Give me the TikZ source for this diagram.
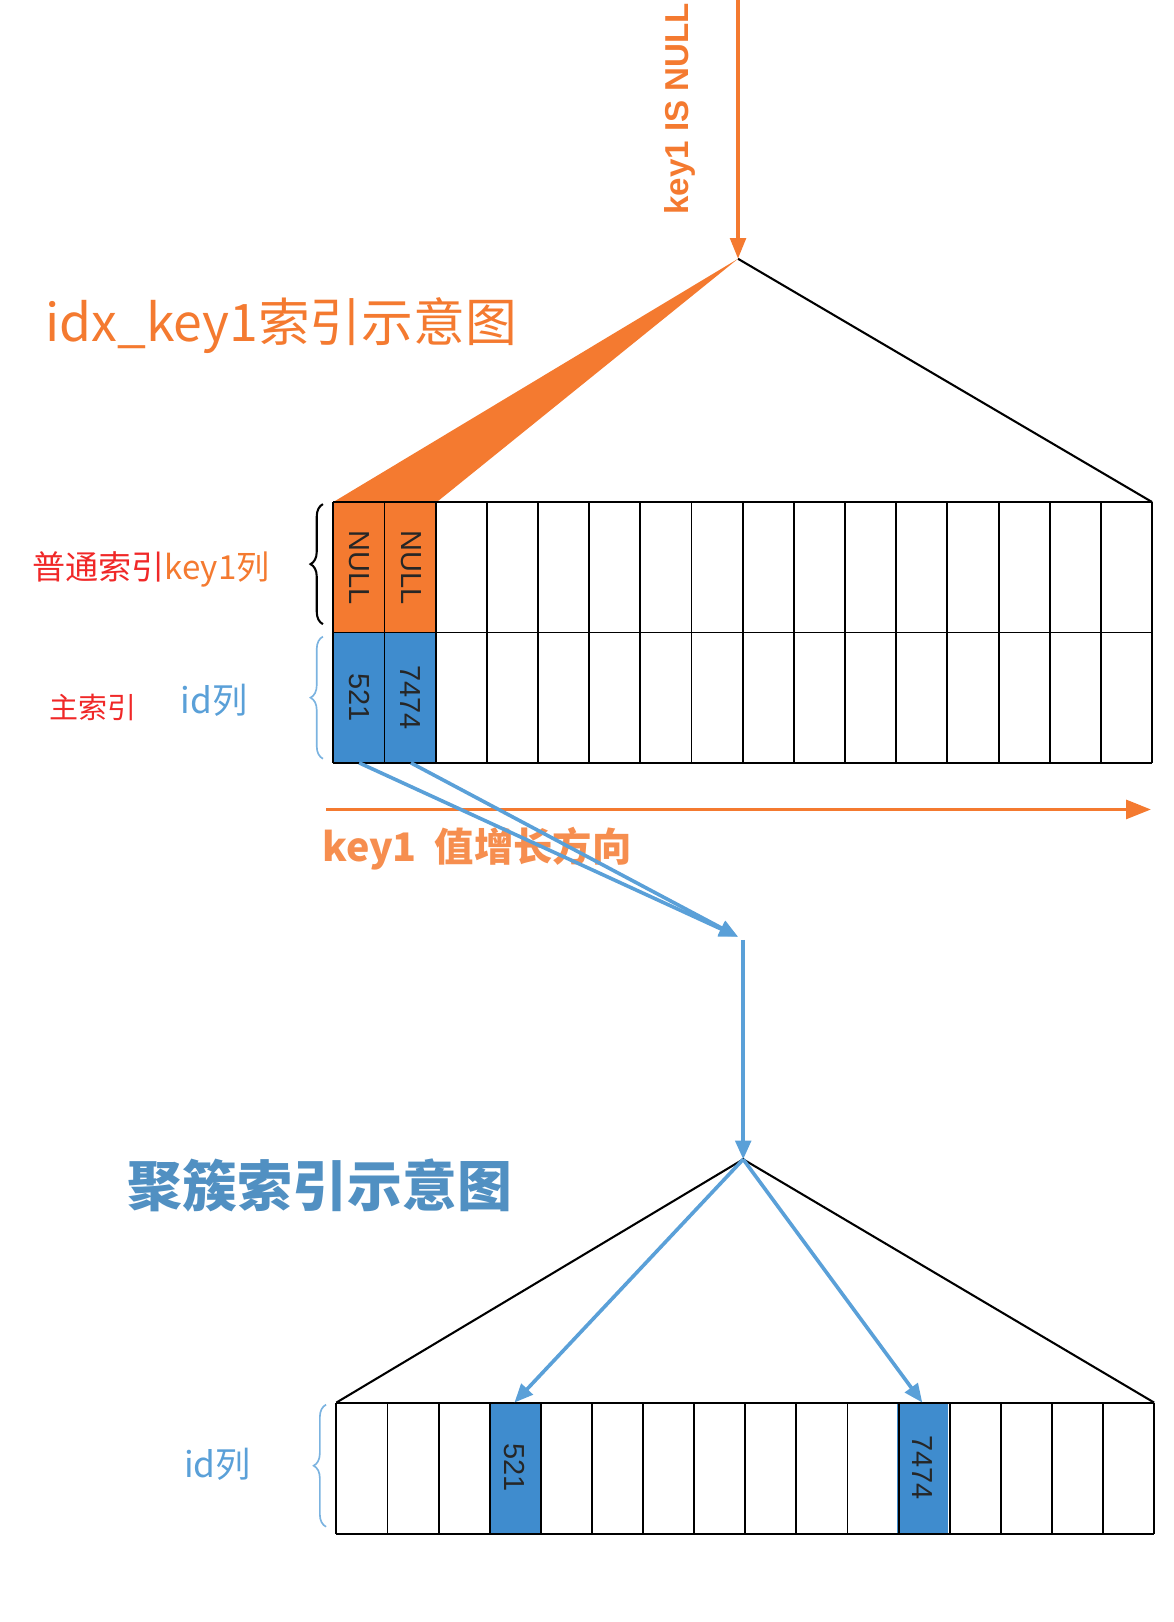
\documentclass[tikz,border=0pt]{standalone}
\usepackage{fontspec}
\setmainfont{Liberation Sans}
\newfontfamily\cjk{Noto Sans CJK SC}
\usetikzlibrary{arrows.meta,decorations.pathreplacing}
\definecolor{org}{HTML}{F47A30}
\definecolor{blu}{HTML}{5AA0D8}
\definecolor{cellb}{HTML}{3F8CCE}
\definecolor{redt}{HTML}{F02828}
\begin{document}
\begin{tikzpicture}[x=1pt,y=-1pt,
  blarrow/.style={blu,line width=3.5pt,-{Triangle[length=18pt,width=15pt]}},
  vtext/.style={font=\fontsize{28}{28}\selectfont,text=black!85}]
\useasboundingbox (0,0) rectangle (1134,1567);
% top tree
\coordinate (apex1) at (713,250);
\coordinate (top0) at (713,0);
\fill[org] (apex1) -- (322,485) -- (422,485) -- cycle;
\draw[line width=2pt] (apex1) -- (1113,485);
\draw[org,line width=3.5pt,-{Triangle[length=20pt,width=15pt]}] (top0) -- (apex1);
\node[org,rotate=90,font=\bfseries\fontsize{32}{32}\selectfont] (isnull) at (657,105) {key1 IS NULL};
\node[org,anchor=west,font=\cjk\fontsize{50}{50}\selectfont] (t1) at (40,315) {idx\_key1索引示意图};
% top table
\fill[org] (322,485) rectangle (422,611);
\fill[cellb] (322,611) rectangle (422,737);
\foreach \i in {0,...,16} {\draw[line width=1.8pt] ({322+\i*49.44},485) -- ({322+\i*49.44},737);}
\draw[line width=1.8pt] (322,485) -- (1113,485) (322,611) -- (1113,611) (322,737) -- (1113,737);
\node[vtext,rotate=-90] (n1) at (347,548) {NULL};
\node[vtext,rotate=-90] (n2) at (397,548) {NULL};
\node[vtext,rotate=-90] (c1) at (347,674) {521};
\node[vtext,rotate=-90] (c2) at (397,674) {7474};
% braces
\draw[line width=2pt,decorate,decoration={brace,amplitude=12pt}] (312,603) -- (312,487);
\draw[blu!80,line width=1.6pt,decorate,decoration={brace,amplitude=12pt}] (312,733) -- (312,615);
\node[anchor=east,font=\cjk\fontsize{32}{32}\selectfont] (l1) at (264,550) {\textcolor{redt}{普通索引}\textcolor{org}{key1列}};
\node[redt,font=\cjk\fontsize{28}{28}\selectfont] (l2) at (90,683) {主索引};
\node[blu,font=\cjk\fontsize{34}{34}\selectfont] (l3) at (207,677) {id列};
% direction arrow
\coordinate (d0) at (315,782); \coordinate (d1) at (1112,782);
\draw[org,line width=3.5pt,-{Triangle[length=24pt,width=18pt]}] (d0) -- (d1);
\node[org!85,anchor=west,font=\cjk\bfseries\fontsize{38}{38}\selectfont] (dl) at (308,820) {key1 \ 值增长方向};
% blue connectors
\coordinate (m) at (713,905);
\coordinate (s1) at (347,737); \coordinate (s2) at (397,737);
\draw[blarrow] (s1) -- (m);
\draw[blarrow] (s2) -- (m);
\coordinate (v0) at (718,908); \coordinate (apex2) at (718,1120);
\draw[blarrow] (v0) -- (apex2);
% bottom tree
\node[blu!90!black,anchor=west,font=\cjk\bfseries\fontsize{53}{53}\selectfont] (t2) at (120,1145) {聚簇索引示意图};
\draw[line width=2pt] (325,1355) -- (apex2) -- (1115,1355);
\fill[cellb] (472.1,1355) rectangle (521.5,1482);
\fill[cellb] (866.9,1355) rectangle (916.3,1482);
\foreach \i in {0,...,16} {\draw[line width=1.8pt] ({325+\i*49.375},1355) -- ({325+\i*49.375},1482);}
\draw[line width=1.8pt] (325,1355) -- (1115,1355) (325,1482) -- (1115,1482);
\coordinate (b1) at (497,1355); \coordinate (b2) at (891,1355);
\draw[blarrow] (apex2) -- (b1);
\draw[blarrow] (apex2) -- (b2);
\node[vtext,rotate=-90] (d521) at (497,1418) {521};
\node[vtext,rotate=-90] (d7474) at (891,1418) {7474};
\draw[blu!80,line width=1.6pt,decorate,decoration={brace,amplitude=12pt}] (315,1475) -- (315,1357);
\node[blu,font=\cjk\fontsize{34}{34}\selectfont] (l4) at (210,1415) {id列};
\end{tikzpicture}
\end{document}
